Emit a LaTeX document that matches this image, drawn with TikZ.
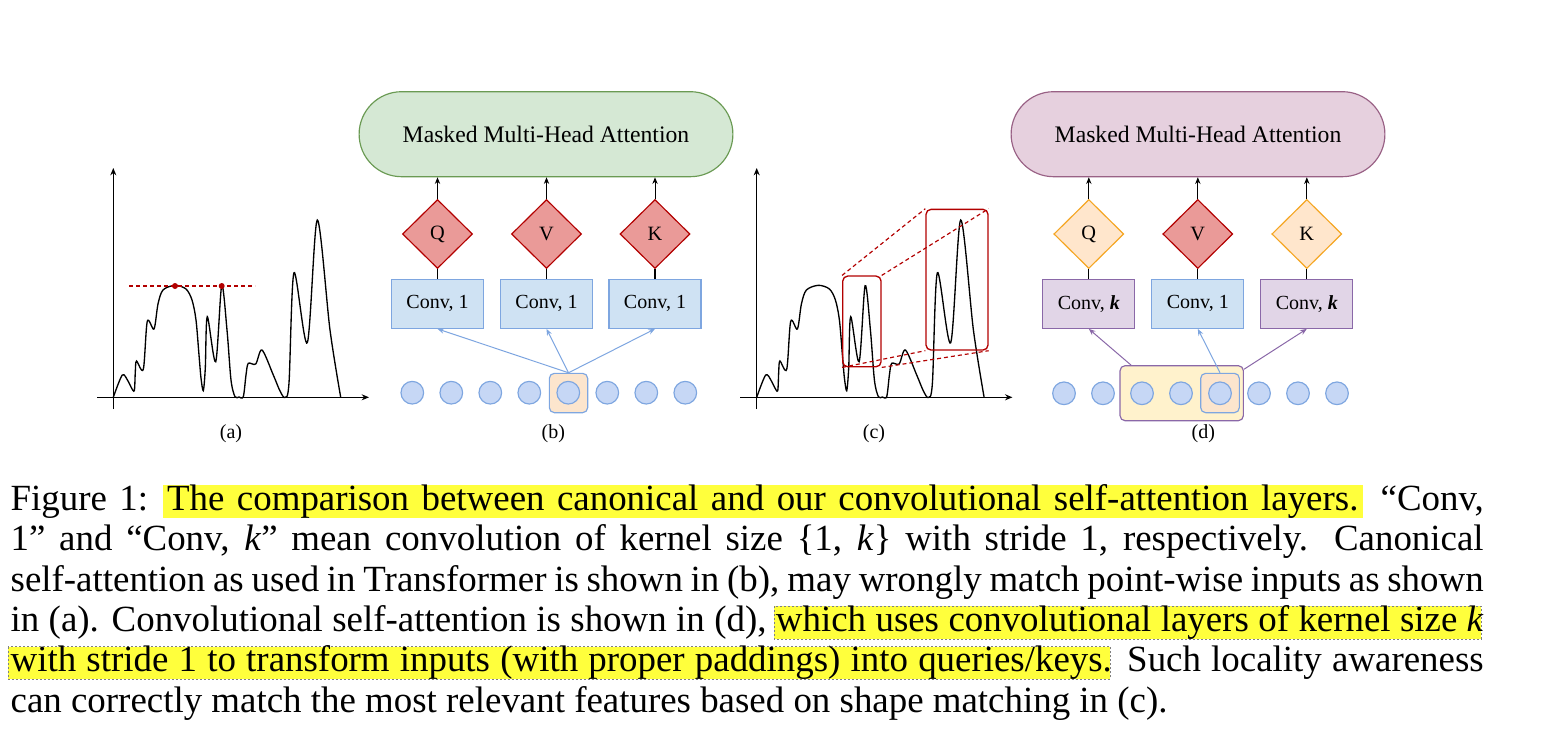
\documentclass[tikz,border=0pt]{standalone}
\usepackage{fontspec}
\setmainfont{Liberation Serif}
\usetikzlibrary{shapes.geometric,shapes.misc,arrows.meta}

\definecolor{attgreen}{HTML}{D5E8D4}
\definecolor{attgreenline}{HTML}{6A9A53}
\definecolor{attpink}{HTML}{E6D0DE}
\definecolor{attpinkline}{HTML}{996185}
\definecolor{headred}{HTML}{EA9A98}
\definecolor{darkred}{HTML}{B20000}
\definecolor{headorange}{HTML}{FFE6CC}
\definecolor{headorangeline}{HTML}{F5A623}
\definecolor{convblue}{HTML}{CFE2F3}
\definecolor{blueline}{HTML}{7EA6E0}
\definecolor{convpurple}{HTML}{E1D5E7}
\definecolor{purpleline}{HTML}{8A68A8}
\definecolor{tokenblue}{HTML}{C6D7F5}
\definecolor{peach}{HTML}{FCE5CD}
\definecolor{paleyellow}{HTML}{FFF2CC}
\definecolor{marker}{HTML}{FFFF3C}

\newlength{\capwidth}
\setlength{\capwidth}{441.9pt}

\tikzset{
  attention/.style={rounded rectangle, draw, line width=0.35pt, minimum width=118.8pt, minimum height=25.5pt, font=\fontsize{7.1}{8}\selectfont},
  head/.style={diamond, draw, line width=0.35pt, minimum width=21pt, minimum height=20.7pt, inner sep=0pt, font=\fontsize{6.1}{7}\selectfont},
  convbox/.style={rectangle, draw, line width=0.35pt, minimum width=27.6pt, minimum height=14.7pt, inner sep=0pt, font=\fontsize{6}{7}\selectfont},
  token/.style={circle, draw=blueline, fill=tokenblue, line width=0.35pt, minimum size=6.8pt, inner sep=0pt},
  window/.style={rectangle, rounded corners=1.5pt, draw, line width=0.35pt, inner sep=0pt},
  feed/.style={-{Stealth[length=2pt,width=1.6pt]}, line width=0.3pt},
  axis/.style={-{Stealth[length=2.2pt,width=1.8pt]}, line width=0.45pt},
  signal/.style={line width=0.4pt},
  match/.style={darkred, dash pattern=on 1.2pt off 0.9pt, line width=0.35pt},
  zoombox/.style={rectangle, rounded corners=1.5pt, draw=darkred, line width=0.4pt, inner sep=0pt},
  panel/.style={font=\fontsize{6}{7}\selectfont},
  capline/.style={anchor=base west, inner sep=0pt, font=\fontsize{11.07}{12}\selectfont},
}

\newcommand{\signalcurve}{%
  \draw[signal] plot[smooth, tension=0.5] coordinates {(113.3,397.3) (122.3,375) (128,381) (131,387) (134.3,390.7) (135.3,372) (136.5,361) (143.3,369.3) (147.3,321.3) (154,329) (158,304) (163,290) (175,285.3) (186,289) (192,300) (196,320) (199,355) (201,378) (203.3,390.7) (205.3,368) (207.3,316.7) (215.7,361.7) (221.7,285.7) (227,330) (231,380) (235,396.7) (239,397) (243.3,396.7) (246,375) (248.3,363.3) (255.7,364) (262,350) (273.3,375) (280,391) (285,397.5) (289,383) (294,272.7) (307.3,342.7) (317.3,220) (330,330) (340.7,397.3)};}

\begin{document}
\begin{tikzpicture}[x=0.3pt, y=-0.3pt]
        \useasboundingbox (0,0) rectangle (1555,743);

        % Panel (a)
        \draw[axis] (113.3,409) -- (113.3,168);
        \draw[axis] (97,397.3) -- (369,397.3);
        \signalcurve
        \draw[match] (129,286) -- (255,286);
        \fill[darkred] (175,286) circle[radius=0.9pt];
        \fill[darkred] (221.7,286) circle[radius=0.9pt];
        \node[panel] (la) at (231,434) {(a)};

        % Panel (b)
        \node[attention, fill=attgreen, draw=attgreenline] (attb) at (546,134.2) {Masked Multi-Head Attention};
        \node[head, fill=headred, draw=darkred] (hqb) at (437.5,234) {Q};
        \node[head, fill=headred, draw=darkred] (hvb) at (546.5,234) {V};
        \node[head, fill=headred, draw=darkred] (hkb) at (655,234) {K};
        \node[convbox, fill=convblue, draw=blueline] (cqb) at (437.5,303.8) {Conv, 1};
        \node[convbox, fill=convblue, draw=blueline] (cvb) at (546.5,303.8) {Conv, 1};
        \node[convbox, fill=convblue, draw=blueline] (ckb) at (655,303.8) {Conv, 1};
        \draw[line width=0.35pt] (hqb.south) -- (cqb.north);
        \draw[line width=0.35pt] (hvb.south) -- (cvb.north);
        \draw[line width=0.35pt] (hkb.south) -- (ckb.north);
        \draw[feed] (hqb.north) -- (hqb.north |- attb.south);
        \draw[feed] (hvb.north) -- (hvb.north |- attb.south);
        \draw[feed] (hkb.north) -- (hkb.north |- attb.south);
        \node[window, fill=peach, draw=blueline, minimum width=11.5pt, minimum height=11.8pt] (winb) at (568.5,393) {};
        \node[token] (tb1) at (412.3,392.7) {};
        \node[token] (tb2) at (451.3,392.7) {};
        \node[token] (tb3) at (490.3,392.7) {};
        \node[token] (tb4) at (529.3,392.7) {};
        \node[token] (tb5) at (568.3,392.7) {};
        \node[token] (tb6) at (607.3,392.7) {};
        \node[token] (tb7) at (646.3,392.7) {};
        \node[token] (tb8) at (685.3,392.7) {};
        \draw[feed, blueline] (winb.north) -- (cqb.south);
        \draw[feed, blueline] (winb.north) -- (cvb.south);
        \draw[feed, blueline] (winb.north) -- (ckb.south);
        \node[panel] (lb) at (553.3,433.3) {(b)};

        % Panel (c)
        \begin{scope}[shift={(643.4,0)}]
          \draw[axis] (113.3,409) -- (113.3,168);
          \draw[axis] (97,397.3) -- (369,397.3);
          \signalcurve
        \end{scope}
        \node[zoombox, minimum width=11.5pt, minimum height=27.2pt] (zsmall) at (861.9,321.4) {};
        \node[zoombox, minimum width=18.6pt, minimum height=42.2pt] (zbig) at (957,279.7) {};
        \draw[match] (zsmall.north west) -- (zbig.north west);
        \draw[match] (zsmall.north east) -- (zbig.north east);
        \draw[match] (zsmall.south west) -- (zbig.south west);
        \draw[match] (zsmall.south east) -- (zbig.south east);
        \node[panel] (lc) at (874,434) {(c)};

        % Panel (d)
        \node[attention, fill=attpink, draw=attpinkline] (attd) at (1198,134.2) {Masked Multi-Head Attention};
        \node[head, fill=headorange, draw=headorangeline] (hqd) at (1088.8,234) {Q};
        \node[head, fill=headred, draw=darkred] (hvd) at (1197.8,234) {V};
        \node[head, fill=headorange, draw=headorangeline] (hkd) at (1306.8,234) {K};
        \node[convbox, fill=convpurple, draw=purpleline] (cqd) at (1088.8,303.8) {Conv, \textbf{\textit{k}}};
        \node[convbox, fill=convblue, draw=blueline] (cvd) at (1197.8,303.8) {Conv, 1};
        \node[convbox, fill=convpurple, draw=purpleline] (ckd) at (1306.8,303.8) {Conv, \textbf{\textit{k}}};
        \draw[line width=0.35pt] (hqd.south) -- (cqd.north);
        \draw[line width=0.35pt] (hvd.south) -- (cvd.north);
        \draw[line width=0.35pt] (hkd.south) -- (ckd.north);
        \draw[feed] (hqd.north) -- (hqd.north |- attd.south);
        \draw[feed] (hvd.north) -- (hvd.north |- attd.south);
        \draw[feed] (hkd.north) -- (hkd.north |- attd.south);
        \node[window, fill=paleyellow, draw=purpleline, minimum width=37pt, minimum height=16.5pt] (wind) at (1181.7,393.2) {};
        \node[window, fill=peach, draw=blueline, minimum width=11.6pt, minimum height=11.8pt] (winv) at (1220,393) {};
        \node[token] (td1) at (1064,393.3) {};
        \node[token] (td2) at (1103,393.3) {};
        \node[token] (td3) at (1142,393.3) {};
        \node[token] (td4) at (1181,393.3) {};
        \node[token] (td5) at (1220,393.3) {};
        \node[token] (td6) at (1259,393.3) {};
        \node[token] (td7) at (1298,393.3) {};
        \node[token] (td8) at (1337,393.3) {};
        \draw[feed, purpleline] (wind.151.7) -- (cqd.south);
        \draw[feed, blueline] (winv.north) -- (cvd.south);
        \draw[feed, purpleline] (wind.21) -- (ckd.south);
        \node[panel] (ld) at (1203.3,433.3) {(d)};

        % Caption
        \fill[marker] (163,485) rectangle (1363,517.7);
        \filldraw[fill=marker, draw=gray, dash pattern=on 0.6pt off 0.6pt, line width=0.2pt] (774,606) rectangle (1481,639);
        \filldraw[fill=marker, draw=gray, dash pattern=on 0.6pt off 0.6pt, line width=0.2pt] (8,646.7) rectangle (1110,679);
        \node[capline] (cap1) at (10,510) {\makebox[\capwidth][s]{Figure 1: The comparison between canonical and our convolutional self-attention layers. “Conv,}};
        \node[capline] (cap2) at (10,550.5) {\makebox[\capwidth][s]{1” and “Conv, \textit{k}” mean convolution of kernel size \{1, \textit{k}\} with stride 1, respectively. Canonical}};
        \node[capline] (cap3) at (10,591) {\makebox[\capwidth][s]{self-attention as used in Transformer is shown in (b), may wrongly match point-wise inputs as shown}};
        \node[capline] (cap4) at (10,631) {\makebox[\capwidth][s]{in (a). Convolutional self-attention is shown in (d), which uses convolutional layers of kernel size \textit{k}}};
        \node[capline] (cap5) at (10,671.5) {\makebox[\capwidth][s]{with stride 1 to transform inputs (with proper paddings) into queries/keys. Such locality awareness}};
        \node[capline] (cap6) at (10,712) {can correctly match the most relevant features based on shape matching in (c).};
    \end{tikzpicture}
\end{document}
